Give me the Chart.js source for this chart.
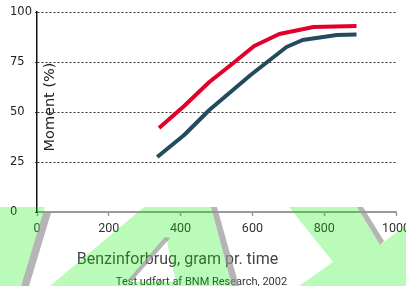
<!DOCTYPE html>
<html><head><meta charset="utf-8">
<script src="https://cdn.jsdelivr.net/npm/chart.js@4"></script>
<style>html,body{margin:0;padding:0;background:#fff;overflow:hidden}#wrap{width:406px;height:286px;position:relative}</style>
</head><body><div id="wrap"><canvas id="c" width="406" height="286"></canvas></div>
<script>
const xTicks = [0, 200, 400, 600, 800, 1000];
const yTicks = [0, 25, 50, 75, 100];
const redX = [340, 410, 480, 540, 605, 675, 770, 890];
const redY = [42, 53, 65, 73.5, 83, 89, 92.5, 93];
const darkX = [335, 410, 480, 595, 695, 740, 835, 890];
const darkY = [27.5, 38.5, 51, 68.5, 82.5, 86, 88.5, 88.7];
const xTitle = 'Benzinforbrug, gram pr. time';
const yTitle = 'Moment (%)';
const footer = 'Test udført af BNM Research, 2002';

const deco = {
  id: 'deco',
  afterDraw(chart) {
    const ctx = chart.ctx, a = chart.chartArea;
    ctx.save();
    // y title inside plot
    ctx.fillStyle = '#222';
    ctx.font = '14.5px "DejaVu Sans"';
    ctx.textAlign = 'center';
    ctx.textBaseline = 'middle';
    ctx.save();
    ctx.translate(a.left + 13, a.top + 95);
    ctx.rotate(-Math.PI / 2);
    ctx.fillText(yTitle, 0, 0);
    ctx.restore();
    // x title
    ctx.fillStyle = '#444';
    ctx.font = '16px Roboto';
    ctx.textBaseline = 'alphabetic';
    ctx.fillText(xTitle, a.left + 140.5, a.bottom + 51.5);
    // footer
    ctx.fillStyle = '#333';
    ctx.font = '11px Roboto';
    ctx.fillText(footer, chart.width / 2 - 1.5, chart.height - 1);
    // background watermark shapes
    const poly = (pts, col) => {
      ctx.beginPath();
      pts.forEach((p, i) => i ? ctx.lineTo(p[0], p[1]) : ctx.moveTo(p[0], p[1]));
      ctx.closePath();
      ctx.fillStyle = col;
      ctx.fill();
    };
    const G = 'rgba(0,240,0,0.27)', S = 'rgba(150,150,150,0.7)';
    poly([[0,207],[45,207],[43,213],[21,286],[0,286]], G);
    poly([[43,213],[51,213],[29,286],[21,286]], S);
    ctx.save();
    ctx.beginPath();
    ctx.moveTo(144,207); ctx.lineTo(211,207); ctx.lineTo(232,286); ctx.lineTo(50,286); ctx.closePath();
    ctx.moveTo(166,237); ctx.lineTo(128,282); ctx.lineTo(176,282); ctx.closePath();
    ctx.fillStyle = G; ctx.fill('evenodd');
    ctx.restore();
    poly([[165,237],[170,238],[133,280],[128,280]], S);
    poly([[211,207],[217,207],[239,286],[232,286]], S);
    poly([[289,207],[357,207],[380,245],[406,225],[406,286],[299,286],[333,262]], G);
    poly([[357,207],[363,207],[384,241],[380,245]], S);
    ctx.restore();
  }
};

new Chart(document.getElementById('c'), {
  type: 'line',
  data: {
    datasets: [
      { label: 'Serie 1', data: redX.map((x, i) => ({ x, y: redY[i] })), borderColor: '#e2002a', borderWidth: 4, pointRadius: 0, tension: 0, borderJoinStyle: 'round', fill: false },
      { label: 'Serie 2', data: darkX.map((x, i) => ({ x, y: darkY[i] })), borderColor: '#244b5d', borderWidth: 4, pointRadius: 0, tension: 0, borderJoinStyle: 'round', fill: false }
    ]
  },
  options: {
    responsive: false,
    devicePixelRatio: 1,
    animation: false,
    layout: { padding: { left: 10, top: 12, right: 10, bottom: 0 } },
    plugins: { legend: { display: false }, tooltip: { enabled: false }, title: { display: false } },
    scales: {
      x: {
        type: 'linear', min: 0, max: 1000,
        afterBuildTicks: s => { s.ticks = xTicks.map(v => ({ value: v })); },
        grid: { drawOnChartArea: false, drawTicks: true, tickLength: 4, color: '#9a9a9a', tickWidth: 1.5 },
        border: { color: '#9a9a9a', width: 2 },
        ticks: { color: '#333', font: { family: 'Roboto', size: 12.5 }, padding: 5, maxRotation: 0, autoSkip: false, callback: v => String(v) },
        afterFit: s => { s.height = 74; s.paddingLeft = 0; s.paddingRight = 0; }
      },
      y: {
        min: 0, max: 100,
        afterBuildTicks: s => { s.ticks = yTicks.map(v => ({ value: v })); },
        grid: { color: '#333', lineWidth: 1, tickLength: 2, drawTicks: true, tickColor: '#333' },
        border: { color: '#111', width: 1.5, dash: [2, 2] },
        ticks: { crossAlign: 'far', color: '#222', font: { family: 'DejaVu Sans', size: 11.5 }, padding: 4, callback: v => String(v) },
        afterFit: s => { s.width = 27; s.paddingTop = 0; s.paddingBottom = 0; }
      }
    }
  },
  plugins: [deco]
});
</script>
</body></html>
